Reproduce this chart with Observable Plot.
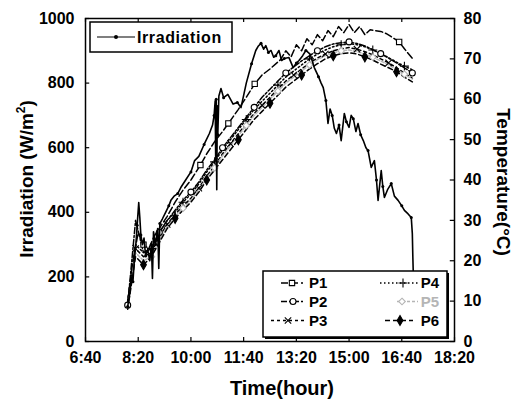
<!DOCTYPE html>
<html><head><meta charset="utf-8">
<script src="https://cdn.jsdelivr.net/npm/d3@7"></script>
<script src="https://cdn.jsdelivr.net/npm/@observablehq/plot@0.6"></script>
<style>
body{margin:0;background:#fff;}
#chart{position:relative;width:515px;height:399px;}
</style></head><body><div id="chart"></div>
<script>
// ---------- data ----------
const xTickLabels = ["6:40","8:20","10:00","11:40","13:20","15:00","16:40","18:20"];
const yLeftTicks = [0,200,400,600,800,1000];
const yRightTicks = [0,10,20,30,40,50,60,70,80];

const irrTimes = ["8:00","8:04","8:07","8:10","8:13","8:16","8:18","8:21","8:23","8:25","8:28","8:31","8:34","8:38","8:42","8:45","8:47","8:49","8:53","8:57","8:59","9:01","9:06","9:12","9:18","9:22","9:28","9:35","9:42","9:50","10:00","10:07","10:15","10:25","10:35","10:41","10:44","10:46","10:47","10:48","10:49","10:50","10:51","10:53","10:57","11:02","11:10","11:20","11:28","11:35","11:45","11:55","12:03","12:08","12:13","12:18","12:22","12:27","12:32","12:37","12:41","12:47","12:52","12:57","13:06","13:14","13:20","13:25","13:32","13:38","13:46","13:54","14:02","14:07","14:11","14:16","14:20","14:24","14:28","14:32","14:36","14:41","14:45","14:51","14:55","15:00","15:04","15:08","15:13","15:17","15:22","15:27","15:32","15:36","15:42","15:48","15:52","15:55","16:01","16:04","16:07","16:13","16:20","16:26","16:33","16:40","16:45","16:52","16:58","17:00","17:01","17:02"];
const irrValues = [108,150,200,185,260,310,360,430,385,330,300,320,265,285,250,300,195,340,300,350,226,365,380,400,420,437,450,458,480,500,525,560,573,610,644,670,700,745,560,750,470,730,640,760,783,755,765,735,740,724,800,860,901,915,923,905,916,895,901,880,885,901,870,876,879,848,862,870,885,901,890,848,820,800,786,746,675,720,700,660,644,670,622,706,680,663,700,690,650,675,640,622,600,591,539,560,500,437,529,480,446,470,489,450,437,420,406,395,384,334,260,200];

const p1Times = ["8:00","8:10","8:20","8:30","8:40","8:50","9:00","9:15","9:30","9:45","10:00","10:18","10:30","10:45","11:00","11:11","11:30","11:45","12:01","12:15","12:30","12:50","13:00","13:10","13:20","13:30","13:40","13:50","14:00","14:10","14:20","14:30","14:40","14:50","15:00","15:10","15:20","15:30","15:40","16:00","16:10","16:20","16:35","16:45","17:02"];
const p1Values = [10,20,27,24,23,26,28,31,34.5,37.5,40,43.7,46.5,49.5,52,54,57.5,60.5,63.8,66,67.5,69.8,72,70.5,73.5,72,75,73.5,76,74.5,77,75.5,78,76.5,78.5,76.5,78,76,77.2,76.8,76.3,75.5,74.2,72.5,69.8];
const p1MarkerTimes = ["8:30","10:18","11:11","12:01","16:35"];

const tempTimes = ["8:00","8:15","8:30","8:45","9:00","9:15","9:30","9:45","10:00","10:15","10:30","10:45","11:00","11:15","11:30","11:45","12:00","12:15","12:30","12:45","13:00","13:15","13:30","13:45","14:00","14:15","14:30","14:45","15:00","15:15","15:30","15:45","16:00","16:15","16:30","16:45","17:00"];
const p2Values = [9,30,22,23,27,30,32.5,35,37,39.5,42.5,45,48,50.5,53,55.5,58,60.5,62.5,64.5,66.5,68,69.5,70.8,72,73,73.7,74,74.2,73.8,73.2,72.3,71.3,70.2,69,67.8,66.5];
const p3Values = [9,23,21,22,26,29,31.5,33.5,35.5,38,41,43.5,46.5,49,51.5,54,56.5,58.5,60.5,62.5,64.5,66,67.5,69,70.2,71.2,72,72.5,72.8,72.4,71.8,71,70,69,67.8,66.5,65.2];
const p4Values = [10,24,22,23,27,30,32,34.5,36.5,39,42,44.5,47.5,50,52.5,55,57.5,59.5,61.5,63.5,65.5,67,68.5,70,71.2,72.2,73,73.5,73.8,73.5,73,72.2,71.3,70.3,69.2,68.2,67.3];
const p5Values = [8,22,20,21,25,28.5,31,33,35,37.5,40.5,43,46,48.5,51,53.5,56,58,60,62,64,65.5,67,68.5,69.8,70.8,71.5,72,72.2,71.8,71.2,70.4,69.5,68.5,67.4,66.2,65];
const p6Values = [8,21,19,21,24.5,28,30.5,32.5,34.5,37,40,42.5,45,47.5,50,52.5,55,57,59,61,63,64.5,66,67.5,68.8,70,70.8,71.3,71.5,71.2,70.5,69.7,68.7,67.8,66.8,65.5,64.3];

// ---------- helpers ----------
const toMin = s => { const [h, m] = s.split(":").map(Number); return h * 60 + m; };
const xTicks = xTickLabels.map(toMin);
const irrMax = 1000, tempMax = 80, k = irrMax / tempMax;
const FONT = "'Liberation Sans', Arial, sans-serif";

const irr = irrTimes.map((t, i) => ({m: toMin(t), y: irrValues[i]}));
const series = [
  {name: "P1", times: p1Times, values: p1Values, color: "#000", dash: "7,3", symbol: "square", fill: "white", marker: (d, i) => p1MarkerTimes.includes(d.t)},
  {name: "P2", times: tempTimes, values: p2Values, color: "#000", dash: "6,2,2,2", symbol: "circle", fill: "white", marker: (d, i) => i % 4 === 0},
  {name: "P3", times: tempTimes, values: p3Values, color: "#000", dash: "3,3", symbol: "times", fill: "none", marker: (d, i) => i % 4 === 1},
  {name: "P4", times: tempTimes, values: p4Values, color: "#000", dash: "1.5,2.5", symbol: "plus", fill: "none", marker: (d, i) => i % 4 === 3},
  {name: "P5", times: tempTimes, values: p5Values, color: "#b5b5b5", dash: "3,2", symbol: "diamond2", fill: "white", marker: (d, i) => i % 4 === 3},
  {name: "P6", times: tempTimes, values: p6Values, color: "#000", dash: "5,3", symbol: "diamond", fill: "#000", marker: (d, i) => i % 4 === 2}
].map(s => ({...s, data: s.times.map((t, i) => ({t, m: toMin(t), y: s.values[i] * k}))}));

const marks = [
  Plot.ruleX(xTicks, {y1: 0, y2: 12, stroke: "#000", strokeWidth: 1.2}),
  Plot.ruleX(xTicks, {y1: irrMax, y2: irrMax - 12, stroke: "#000", strokeWidth: 1.2}),
  Plot.ruleY(yLeftTicks, {x1: 400, x2: 408, stroke: "#000", strokeWidth: 1.2}),
  Plot.ruleY(yRightTicks.map(d => d * k), {x1: 1100, x2: 1092, stroke: "#000", strokeWidth: 1.2}),
  Plot.axisX({ticks: xTicks, tickFormat: d => xTickLabels[xTicks.indexOf(d)], tickSize: 0, tickPadding: 10, label: null}),
  Plot.axisY({ticks: yLeftTicks, tickFormat: d => String(d), tickSize: 0, tickPadding: 11, label: null}),
  Plot.axisY({anchor: "right", ticks: yRightTicks.map(d => d * k), tickFormat: d => String(Math.round(d / k)), tickSize: 0, tickPadding: 9, label: null})
];
for (const s of series) {
  marks.push(Plot.line(s.data, {x: "m", y: "y", stroke: s.color, strokeWidth: 1.5, strokeDasharray: s.dash}));
}
for (const s of series) {
  marks.push(Plot.dot(s.data.filter(s.marker), {x: "m", y: "y", symbol: s.symbol, r: 3, fill: s.fill, stroke: s.color, strokeWidth: 1.1}));
}
marks.push(Plot.line(irr, {x: "m", y: "y", stroke: "#000", strokeWidth: 1.6}));
marks.push(Plot.dot(irr.filter((d, i) => i % 3 === 0), {x: "m", y: "y", r: 1.5, fill: "#000", stroke: "none"}));
marks.push(Plot.frame({stroke: "#000", strokeWidth: 1.5}));

const plot = Plot.plot({
  width: 515, height: 399,
  marginLeft: 85, marginRight: 61, marginTop: 18, marginBottom: 58,
  x: {domain: [toMin(xTickLabels[0]), toMin(xTickLabels[xTickLabels.length - 1])]},
  y: {domain: [0, irrMax]},
  style: {fontFamily: FONT, fontSize: "16px", fontWeight: "bold", color: "#000", background: "#fff"},
  marks
});
document.getElementById("chart").appendChild(plot);

// ---------- axis titles and legends ----------
const svg = d3.select(plot);
const lbl = svg.append("text").attr("transform", "translate(33,179) rotate(-90)")
  .attr("text-anchor", "middle").attr("font-size", 19).attr("font-weight", "bold").attr("fill", "#000");
lbl.append("tspan").text("Irradiation (W/m");
lbl.append("tspan").attr("dy", -8).attr("font-size", 12).text("2");
lbl.append("tspan").attr("dy", 8).text(")");

svg.append("text").attr("transform", "translate(497,182) rotate(90)")
  .attr("text-anchor", "middle").attr("font-size", 19).attr("font-weight", "bold").attr("fill", "#000")
  .text("Temperature(°C)");

svg.append("text").attr("x", 282).attr("y", 395).attr("text-anchor", "middle")
  .attr("font-size", 20).attr("font-weight", "bold").attr("fill", "#000").text("Time(hour)");

// legend 1
const g1 = svg.append("g");
g1.append("rect").attr("x", 90).attr("y", 22).attr("width", 142).attr("height", 30)
  .attr("fill", "#fff").attr("stroke", "#000").attr("stroke-width", 1.5);
g1.append("line").attr("x1", 97).attr("x2", 135).attr("y1", 37).attr("y2", 37).attr("stroke", "#000").attr("stroke-width", 1.2);
g1.append("circle").attr("cx", 116).attr("cy", 37).attr("r", 2).attr("fill", "#000");
g1.append("text").attr("x", 137).attr("y", 43).attr("text-anchor", "start").attr("font-size", 16)
  .attr("font-weight", "bold").attr("letter-spacing", 0.6).attr("fill", "#000").text("Irradiation");

// legend 2
const g2 = svg.append("g");
g2.append("rect").attr("x", 265).attr("y", 273).attr("width", 184).attr("height", 66).attr("fill", "#000");
g2.append("rect").attr("x", 263).attr("y", 271).attr("width", 184).attr("height", 66)
  .attr("fill", "#fff").attr("stroke", "#000").attr("stroke-width", 1.5);
const symType = {square: d3.symbolSquare, circle: d3.symbolCircle, times: d3.symbolTimes, plus: d3.symbolPlus, diamond2: d3.symbolDiamond2, diamond: d3.symbolDiamond};
const pos = [
  {x1: 281, x2: 303, mx: 292, y: 283, tx: 309, ty: 288, anchor: "start"},
  {x1: 281, x2: 303, mx: 293, y: 301.5, tx: 309, ty: 306.5, anchor: "start"},
  {x1: 271, x2: 305, mx: 288, y: 320.5, tx: 309, ty: 325.5, anchor: "start"},
  {x1: 380, x2: 418, mx: 403, y: 283, tx: 439, ty: 288, anchor: "end"},
  {x1: 397, x2: 418, mx: 402, y: 301.5, tx: 439, ty: 306.5, anchor: "end"},
  {x1: 385, x2: 413, mx: 400, y: 320.5, tx: 439, ty: 325.5, anchor: "end"}
];
series.forEach((s, i) => {
  const p = pos[i];
  g2.append("line").attr("x1", p.x1).attr("x2", p.x2).attr("y1", p.y).attr("y2", p.y)
    .attr("stroke", s.color).attr("stroke-width", 1.4).attr("stroke-dasharray", s.dash);
  g2.append("path").attr("transform", `translate(${p.mx},${p.y})`)
    .attr("d", d3.symbol().type(symType[s.symbol]).size(Math.PI * 9)())
    .attr("fill", s.fill).attr("stroke", s.color).attr("stroke-width", 1.1);
  g2.append("text").attr("x", p.tx).attr("y", p.ty).attr("text-anchor", p.anchor)
    .attr("font-size", 15).attr("font-weight", "bold").attr("fill", s.name === "P5" ? "#b5b5b5" : "#000").text(s.name);
});
</script>
</body></html>
